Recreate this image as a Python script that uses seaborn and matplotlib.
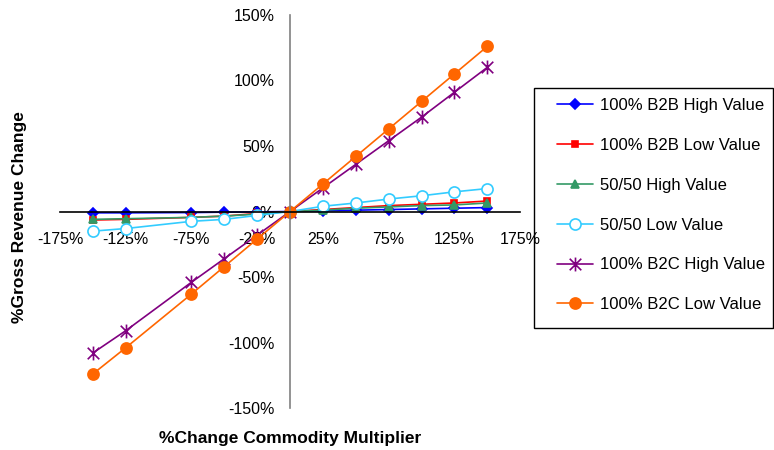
import matplotlib
matplotlib.use("Agg")
import matplotlib.pyplot as plt
import seaborn as sns
from matplotlib.path import Path
from matplotlib.patches import Rectangle

# Data
x_change = [-150, -125, -75, -50, -25, 0, 25, 50, 75, 100, 125, 150]
b2b_high = [-1, -1, -0.8, -0.5, -0.3, 0, 0.5, 1, 1.5, 2, 2.5, 3]
b2b_low = [-6.5, -6, -4.5, -3.5, -1.5, 0, 1.5, 3, 4.5, 5.5, 6.5, 8]
mixed_high = [-6, -5.5, -4.5, -3.5, -2, 0, 1, 2.5, 3.5, 4.5, 5, 6.5]
mixed_low = [-15, -13, -7.5, -6, -3, 0, 4, 6.5, 9.5, 12, 15, 17.5]
b2c_high = [-108, -91, -54, -36, -18, 0, 18, 36, 54, 72, 91, 110]
b2c_low = [-124, -104, -63, -42, -21, 0, 21, 42, 63, 84, 105, 126]

labels = ["100% B2B High Value", "100% B2B Low Value", "50/50 High Value",
          "50/50 Low Value", "100% B2C High Value", "100% B2C Low Value"]
x_ticks = [-175, -125, -75, -25, 25, 75, 125, 175]
y_ticks = [-150, -100, -50, 0, 50, 100, 150]

sns.set_style("white")
plt.rcParams["font.family"] = ["Liberation Sans", "DejaVu Sans"]
plt.rcParams["text.color"] = "black"
plt.rcParams["axes.labelcolor"] = "black"

# x with a vertical bar, like the Excel star marker
star = Path([(-1, -1), (1, 1), (-1, 1), (1, -1), (0, 1.2), (0, -1.2)],
            [Path.MOVETO, Path.LINETO, Path.MOVETO, Path.LINETO, Path.MOVETO, Path.LINETO])

styles = [
    dict(color="#0000FF", marker="D", ms=5.5, mec="#0000FF", mfc="#0000FF"),
    dict(color="#FF0000", marker="s", ms=5, mec="#FF0000", mfc="#FF0000"),
    dict(color="#339966", marker="^", ms=6, mec="#339966", mfc="#339966"),
    dict(color="#33CCFF", marker="o", ms=8, mec="#33CCFF", mfc="white"),
    dict(color="#800080", marker=star, ms=10, mec="#800080", mfc="none"),
    dict(color="#FF6600", marker="o", ms=8, mec="#FF6600", mfc="#FF6600"),
]
series = [b2b_high, b2b_low, mixed_high, mixed_low, b2c_high, b2c_low]

fig = plt.figure(figsize=(7.74, 4.5), dpi=100)
ax = fig.add_axes([0.0775, 0.0933, 0.5945, 0.8734])

for vals, lab, st in zip(series, labels, styles):
    sns.lineplot(x=x_change, y=vals, ax=ax, label=lab, linewidth=1.2,
                 mew=1.2, legend=False, **st)

ax.set_xlim(-175, 175)
ax.set_ylim(-150, 150)
ax.set_xticks(x_ticks)
ax.set_xticklabels([f"{v}%" for v in x_ticks])
ax.set_yticks(y_ticks)
ax.set_yticklabels([f"{v}%" for v in y_ticks])

# axes cross at zero like the Excel chart
ax.spines["left"].set_position(("data", 0))
ax.spines["bottom"].set_position(("data", 0))
ax.spines["top"].set_visible(False)
ax.spines["right"].set_visible(False)
ax.spines["left"].set_color("#808080")
ax.spines["bottom"].set_color("black")
ax.spines["left"].set_linewidth(1.2)
ax.spines["bottom"].set_linewidth(1.2)

ax.tick_params(axis="x", direction="out", length=4, width=1, pad=11, labelsize=11.5, colors="black")
ax.tick_params(axis="y", direction="out", length=4, width=1, pad=7, labelsize=11.5, colors="black")

ax.set_xlabel("%Change Commodity Multiplier", fontsize=12.5, fontweight="bold")
ax.set_ylabel("%Gross Revenue Change", fontsize=12.5, fontweight="bold")
ax.xaxis.set_label_coords(0.5, -0.058)
ax.yaxis.set_label_coords(-0.072, 0.486)

# legend box drawn separately so the padding matches the original
fig.patches.append(Rectangle((534 / 774, 1 - 328 / 450), 239 / 774, 240 / 450,
                             transform=fig.transFigure, fill=False,
                             edgecolor="black", linewidth=1.0))

handles, labs = ax.get_legend_handles_labels()
leg = fig.legend(handles, labs, loc="upper left", bbox_to_anchor=(557 / 774, 1 - 98 / 450),
                 fontsize=12, frameon=False, labelspacing=1.49, handlelength=2.15,
                 handletextpad=0.42, borderpad=0, borderaxespad=0)

fig.savefig("out.png", dpi=100)
